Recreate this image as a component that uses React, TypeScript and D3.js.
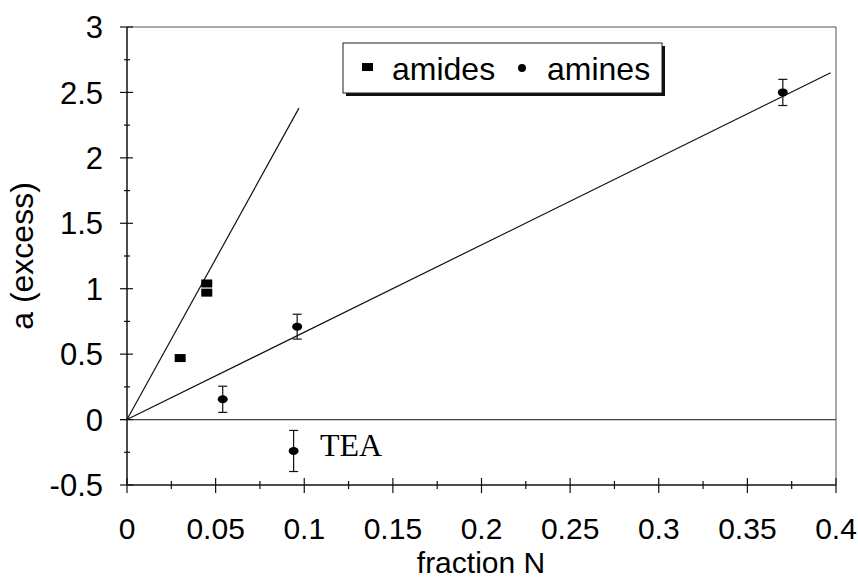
import React from 'react';
import * as d3 from 'd3';

// values
const amideX = [0.030, 0.045, 0.045];
const amideY = [0.47, 1.04, 0.97];

const amineX = [0.054, 0.096, 0.094, 0.370];
const amineY = [0.155, 0.71, -0.24, 2.50];
const amineErr = [0.10, 0.095, 0.157, 0.10];

// fitted lines (start / end points)
const amideFit = [[0, 0], [0.097, 2.38]];
const amineFit = [[0, 0], [0.397, 2.65]];

const xTicks = [0, 0.05, 0.1, 0.15, 0.2, 0.25, 0.3, 0.35, 0.4];
const yTicks = [-0.5, 0, 0.5, 1, 1.5, 2, 2.5, 3];

const W = 858;
const H = 579;
const sans = 'Liberation Sans, Arial, sans-serif';
const serif = 'Liberation Serif, Times New Roman, serif';

export default function App() {
  const x = d3.scaleLinear().domain([0, 0.4]).range([127, 836]);
  const y = d3.scaleLinear().domain([-0.5, 3]).range([485, 27]);

  const xMinor = d3.range(0.025, 0.4, 0.05);
  const yMinor = d3.range(-0.25, 3, 0.5);

  const line = d3.line<number[]>().x(d => x(d[0])).y(d => y(d[1]));

  const fmt = (v: number) => String(+v.toFixed(2));

  return (
    <svg width={W} height={H} style={{ position: 'absolute', left: 0, top: 0, background: '#fff' }}>
      {/* frame */}
      <line x1={x(0)} x2={x(0.4)} y1={y(3)} y2={y(3)} stroke="#555" strokeWidth={1} />
      <line x1={x(0.4)} x2={x(0.4)} y1={y(3)} y2={y(-0.5)} stroke="#555" strokeWidth={1} />
      <line x1={x(0) - 7} x2={x(0.4)} y1={y(0)} y2={y(0)} stroke="#444" strokeWidth={1.2} />

      {/* axes */}
      <line x1={x(0)} x2={x(0)} y1={y(3)} y2={y(-0.5)} stroke="#111" strokeWidth={1.5} />
      <line x1={x(0)} x2={x(0.4)} y1={y(-0.5)} y2={y(-0.5)} stroke="#111" strokeWidth={1.5} />

      {yTicks.map(t => (
        <g key={'yt' + t}>
          <line x1={x(0) - 7} x2={x(0) + 6} y1={y(t)} y2={y(t)} stroke="#111" strokeWidth={1.2} />
          <text x={103} y={y(t)} dy="0.36em" textAnchor="end" fontFamily={sans} fontSize={31} fill="#000">{fmt(t)}</text>
        </g>
      ))}
      {yMinor.map(t => (
        <line key={'ym' + t} x1={x(0) - 3} x2={x(0) + 3} y1={y(t)} y2={y(t)} stroke="#111" strokeWidth={1.2} />
      ))}
      {xTicks.map(t => (
        <g key={'xt' + t}>
          <line x1={x(t)} x2={x(t)} y1={y(-0.5) - 7} y2={y(-0.5) + 8} stroke="#111" strokeWidth={1.2} />
          <text x={x(t)} y={539} textAnchor="middle" fontFamily={sans} fontSize={30} fill="#000">{fmt(t)}</text>
        </g>
      ))}
      {xMinor.map(t => (
        <line key={'xm' + t} x1={x(t)} x2={x(t)} y1={y(-0.5) - 4} y2={y(-0.5) + 4} stroke="#111" strokeWidth={1.2} />
      ))}

      {/* axis titles */}
      <text x={481} y={573} textAnchor="middle" fontFamily={sans} fontSize={30} fill="#000">fraction N</text>
      <text transform="translate(33,256) rotate(-90)" textAnchor="middle" fontFamily={sans} fontSize={32} fill="#000">a (excess)</text>

      {/* fit lines */}
      <path d={line(amideFit) || ''} fill="none" stroke="#111" strokeWidth={1.2} />
      <path d={line(amineFit) || ''} fill="none" stroke="#111" strokeWidth={1.2} />

      {/* amides */}
      {amideX.map((v, i) => (
        <rect key={'a' + i} x={x(v) - 5.5} y={y(amideY[i]) - 4} width={11} height={8} fill="#000" />
      ))}

      {/* amines with error bars */}
      {amineX.map((v, i) => {
        const cx = x(v);
        const top = y(amineY[i] + amineErr[i]);
        const bot = y(amineY[i] - amineErr[i]);
        return (
          <g key={'m' + i}>
            <line x1={cx} x2={cx} y1={top} y2={bot} stroke="#111" strokeWidth={1.2} />
            <line x1={cx - 4.5} x2={cx + 4.5} y1={top} y2={top} stroke="#111" strokeWidth={1.2} />
            <line x1={cx - 4.5} x2={cx + 4.5} y1={bot} y2={bot} stroke="#111" strokeWidth={1.2} />
            <ellipse cx={cx} cy={y(amineY[i])} rx={5} ry={4} fill="#000" />
          </g>
        );
      })}

      <text x={320} y={456} fontFamily={serif} fontSize={32} fill="#000">TEA</text>

      {/* legend */}
      <rect x={346} y={46} width={319} height={50} fill="#111" />
      <rect x={343} y={43} width={319} height={50} fill="#fff" stroke="#222" strokeWidth={1} />
      <rect x={362} y={63} width={11} height={8} fill="#000" />
      <text x={392} y={80} fontFamily={sans} fontSize={32} fill="#000">amides</text>
      <ellipse cx={522} cy={68} rx={4} ry={4} fill="#000" />
      <text x={547} y={80} fontFamily={sans} fontSize={32} fill="#000">amines</text>
    </svg>
  );
}
